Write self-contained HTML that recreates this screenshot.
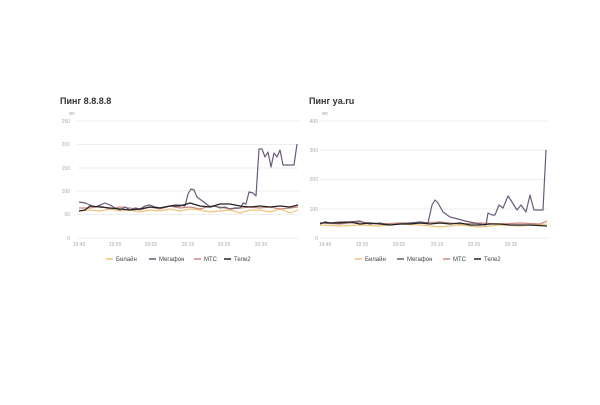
<!DOCTYPE html>
<html><head><meta charset="utf-8"><style>
body{margin:0;width:600px;height:400px;background:#fff;overflow:hidden;font-family:"Liberation Sans","Noto Sans CJK SC",sans-serif}
</style></head><body>
<svg width="600" height="400" xmlns="http://www.w3.org/2000/svg" font-family="Liberation Sans, sans-serif">
<g font-size="9" font-weight="bold" fill="#333">
<text x="60" y="104">Пинг 8.8.8.8</text>
<text x="309" y="104">Пинг ya.ru</text>
</g>
<g stroke="#eee" stroke-width="1">
<line x1="77" y1="121" x2="299" y2="121"/><line x1="77" y1="144.5" x2="299" y2="144.5"/><line x1="77" y1="168" x2="299" y2="168"/><line x1="77" y1="191" x2="299" y2="191"/><line x1="77" y1="214.5" x2="299" y2="214.5"/><line x1="77" y1="238" x2="299" y2="238"/>
<line x1="320" y1="121" x2="548" y2="121"/><line x1="320" y1="150" x2="548" y2="150"/><line x1="320" y1="179.5" x2="548" y2="179.5"/><line x1="320" y1="209" x2="548" y2="209"/><line x1="320" y1="238" x2="548" y2="238"/>
</g>
<g font-size="5" fill="#aaa" text-anchor="end">
<text x="70" y="123">250</text><text x="70" y="146">200</text><text x="70" y="170">150</text><text x="70" y="193">100</text><text x="70" y="216">50</text><text x="70" y="240">0</text>
<text x="75" y="115">мс</text>
<text x="318" y="123">400</text><text x="318" y="152">300</text><text x="318" y="181">200</text><text x="318" y="211">100</text><text x="318" y="240">0</text>
<text x="328" y="115">мс</text>
</g>
<g font-size="5" fill="#aaa" text-anchor="middle">
<text x="79" y="246">19:45</text><text x="115" y="246">19:55</text><text x="151" y="246">20:05</text><text x="188" y="246">20:15</text><text x="224" y="246">20:25</text><text x="261" y="246">20:35</text>
<text x="325" y="246">19:45</text><text x="362" y="246">19:55</text><text x="399" y="246">20:05</text><text x="437" y="246">20:15</text><text x="474" y="246">20:25</text><text x="511" y="246">20:35</text>
</g>
<g fill="none" stroke-width="1.2" stroke-linejoin="round">
<polyline stroke="#f0c478" points="79,211 90,210 100,211 110,209 120,211 130,210 140,212 150,210 160,211 170,209 180,211 190,209 200,210 210,212 220,211 230,210 240,213 250,210 260,210 270,212 280,209 290,213 298,210"/>
<polyline stroke="#c98a80" points="79,208 90,208 100,206 110,209 120,207 130,208 140,210 150,207 160,209 170,206 180,208 190,207 200,209 210,206 220,207 230,209 240,208 250,207 260,208 270,207 280,209 290,208 298,207"/>
<polyline stroke="#6b5a7a" points="79,202 85,203 90,205 95,207 100,205 105,203 110,205 115,208 120,210 125,207 130,210 135,208 140,209 145,206 150,205 155,207 160,208 165,207 170,206 175,205 180,205 185,206 188,194 191,189 194,190 197,197 201,200 205,203 210,207 215,206 220,208 225,207 230,209 235,208 240,208 243,203 246,204 249,192 253,193 256,196 259,149 262,149 265,157 268,152 271,167 274,153 277,157 280,150 283,165 287,165 291,165 294,165 297,144"/>
<polyline stroke="#222" points="79,211 85,210 90,206 100,207 110,208 120,209 130,210 140,209 150,207 160,208 170,206 180,206 190,203 200,206 210,207 220,204 230,204 240,206 250,207 260,206 270,207 280,206 290,207 298,205"/>
<polyline stroke="#f0c478" points="320,225 340,226 360,225 380,226 400,224 420,225 440,227 460,225 480,227 500,225 520,226 547,224"/>
<polyline stroke="#c98a80" points="320,223 340,224 360,222 380,224 400,223 420,223 440,222 460,224 480,223 500,224 520,223 540,224 547,221"/>
<polyline stroke="#6b5a7a" points="320,223 330,223 340,222 350,222 360,221 365,223 370,224 380,223 390,225 400,224 410,223 420,222 428,223 432,205 435,200 438,203 443,212 450,217 458,219 465,221 470,222 480,224 486,225 488,213 492,215 495,215 499,205 503,208 508,196 512,202 517,210 521,205 526,212 530,195 534,210 540,210 543,210 546,150"/>
<polyline stroke="#222" points="320,224 325,222 330,223 340,223 350,222 360,224 370,223 380,224 390,225 400,224 410,224 420,223 430,224 440,223 450,224 460,223 470,225 480,225 490,224 500,224 510,225 520,225 530,225 547,226"/>
</g>
<g font-size="6" fill="#444">
<line x1="106" y1="259" x2="113" y2="259" stroke="#f0c478" stroke-width="1.5"/><text x="116" y="261">Билайн</text>
<line x1="149" y1="259" x2="156" y2="259" stroke="#6b5a7a" stroke-width="1.5"/><text x="159" y="261">Мегафон</text>
<line x1="194" y1="259" x2="201" y2="259" stroke="#c98a80" stroke-width="1.5"/><text x="204" y="261">МТС</text>
<line x1="224" y1="259" x2="231" y2="259" stroke="#222" stroke-width="1.5"/><text x="234" y="261">Теле2</text>
<line x1="355" y1="259" x2="362" y2="259" stroke="#f0c478" stroke-width="1.5"/><text x="365" y="261">Билайн</text>
<line x1="397" y1="259" x2="404" y2="259" stroke="#6b5a7a" stroke-width="1.5"/><text x="407" y="261">Мегафон</text>
<line x1="443" y1="259" x2="450" y2="259" stroke="#c98a80" stroke-width="1.5"/><text x="453" y="261">МТС</text>
<line x1="474" y1="259" x2="481" y2="259" stroke="#222" stroke-width="1.5"/><text x="484" y="261">Теле2</text>
</g>
</svg>
</body></html>
